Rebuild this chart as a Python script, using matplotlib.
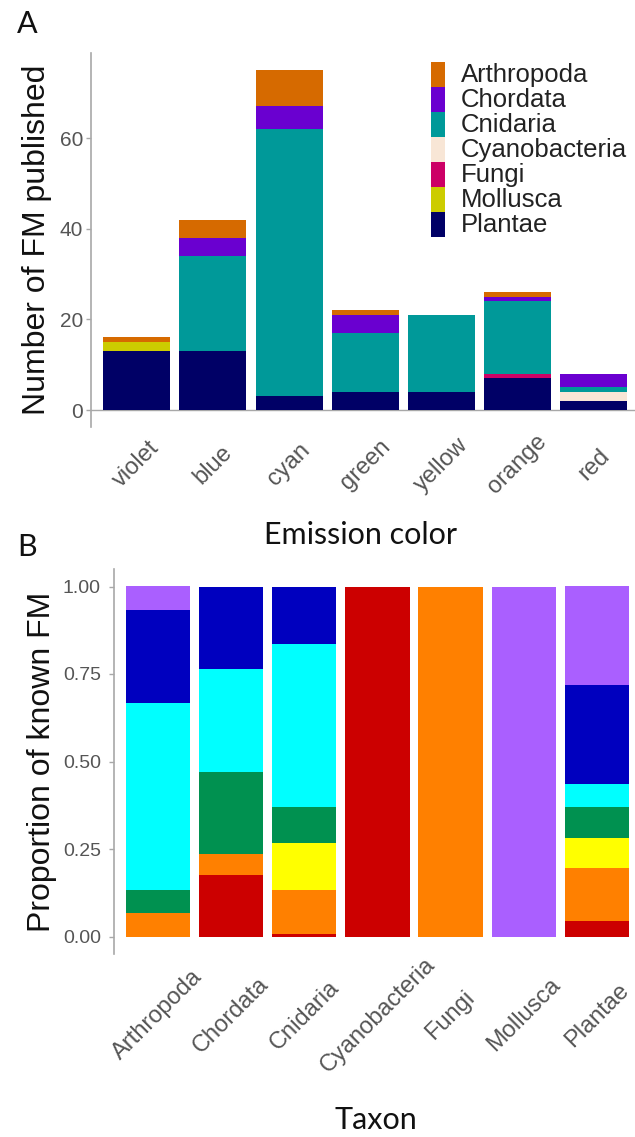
import matplotlib
matplotlib.use("Agg")
import matplotlib.pyplot as plt
import numpy as np
from matplotlib.patches import Rectangle

# ---------------- data ----------------
emission = ['violet', 'blue', 'cyan', 'green', 'yellow', 'orange', 'red']
taxa = ['Arthropoda', 'Chordata', 'Cnidaria', 'Cyanobacteria', 'Fungi', 'Mollusca', 'Plantae']

# counts of FM per taxon, by emission colour (violet..red)
arthropoda = [1, 4, 8, 1, 0, 1, 0]
chordata = [0, 4, 5, 4, 0, 1, 3]
cnidaria = [0, 21, 59, 13, 17, 16, 1]
cyanobacteria = [0, 0, 0, 0, 0, 0, 2]
fungi = [0, 0, 0, 0, 0, 1, 0]
mollusca = [2, 0, 0, 0, 0, 0, 0]
plantae = [13, 13, 3, 4, 4, 7, 2]

taxon_colors = ['#D66A00', '#6A00D0', '#009999', '#F8E6D6', '#CC0066', '#CCCC00', '#000066']
emission_colors = ['#AA5FFF', '#0000BF', '#00FFFF', '#009150', '#FFFF00', '#FF8000', '#CC0000']

counts = np.array([arthropoda, chordata, cnidaria, cyanobacteria, fungi, mollusca, plantae], dtype=float)

# ---------------- figure ----------------
W, H = 635, 1137
fig = plt.figure(figsize=(W / 100, H / 100), dpi=100)
FONT = ['Liberation Sans', 'DejaVu Sans']
TITLEFONT = ['Lato', 'DejaVu Sans']
plt.rcParams['font.family'] = FONT

tick_col = '#555555'
axis_col = '#A8A8A8'


def ax_px(l, t, r, b):
    return fig.add_axes([l / W, 1 - b / H, (r - l) / W, (b - t) / H])


def style(ax, ysize, ypad):
    for s in ['top', 'right', 'bottom']:
        ax.spines[s].set_visible(False)
    ax.spines['left'].set_color(axis_col)
    ax.spines['left'].set_linewidth(1.2)
    ax.tick_params(axis='y', colors=axis_col, labelcolor=tick_col, labelsize=ysize, length=3.5, width=1.0, pad=ypad)
    ax.tick_params(axis='x', length=0, labelcolor=tick_col, labelsize=17)


# ---------------- panel A ----------------
axA = ax_px(91, 53, 635, 427)
x = np.arange(len(emission))
bottom = np.zeros(len(emission))
order_bottom_up = list(range(len(taxa)))[::-1]  # Plantae at bottom
for i in order_bottom_up:
    axA.bar(x, counts[i], bottom=bottom, width=0.88, color=taxon_colors[i], linewidth=0)
    bottom += counts[i]
axA.set_xlim(-0.6, 6.54)
axA.set_ylim(-3.75, 78.75)
axA.set_yticks([0, 20, 40, 60])
axA.axhline(0, color=axis_col, lw=1.0, zorder=0)
style(axA, 15, 2)
axA.set_xticks(x)
axA.set_xticklabels(emission, rotation=45, ha='center', va='center', rotation_mode='anchor')
axA.tick_params(axis='x', pad=27)
axA.set_ylabel('Number of FM published', fontsize=23, color='#111111', labelpad=6)

# legend (manual, compact rows)
row_h = 25 / 374
key_w = 14 / 544
for k, (name, col) in enumerate(zip(taxa, taxon_colors)):
    y0 = (427 - 62) / 374 - (k + 1) * row_h
    axA.add_patch(Rectangle(((431 - 91) / 544, y0), key_w, row_h, transform=axA.transAxes,
                            facecolor=col, edgecolor='none', clip_on=False))
    axA.text((461 - 91) / 544, y0 + row_h / 2, name, transform=axA.transAxes, fontsize=18.5,
             color='#222222', va='center', ha='left')

# ---------------- panel B ----------------
axB = ax_px(114, 569, 635, 954)
totals = counts.sum(axis=1)
props = counts / totals[:, None]
xb = np.arange(len(taxa))
bottom = np.zeros(len(taxa))
for j in list(range(len(emission)))[::-1]:  # red at bottom
    axB.bar(xb, props[:, j], bottom=bottom, width=0.88, color=emission_colors[j], linewidth=0)
    bottom += props[:, j]
axB.set_xlim(-0.6, 6.52)
axB.set_ylim(-0.05, 1.05)
axB.set_yticks([0, 0.25, 0.5, 0.75, 1.0])
axB.set_yticklabels(['0.00', '0.25', '0.50', '0.75', '1.00'])
style(axB, 14, 6)
axB.set_xticks(xb)
axB.set_xticklabels(taxa, rotation=45, ha='center', va='center', rotation_mode='anchor')
axB.tick_params(axis='x', pad=44)
axB.set_ylabel('Proportion of known FM', fontsize=23, color='#111111', labelpad=4)

# ---------------- annotations ----------------
fig.text(27 / W, 1 - 24 / H, 'A', fontsize=22, family=TITLEFONT, ha='center', va='center', color='#111111')
fig.text(27 / W, 1 - 547 / H, 'B', fontsize=22, family=TITLEFONT, ha='center', va='center', color='#111111')
fig.text(361 / W, 1 - 535 / H, 'Emission color', fontsize=22, family=TITLEFONT, ha='center', va='center', color='#111111')
fig.text(376 / W, 1 - 1120 / H, 'Taxon', fontsize=22, family=TITLEFONT, ha='center', va='center', color='#111111')

fig.savefig('out.png', dpi=100)
